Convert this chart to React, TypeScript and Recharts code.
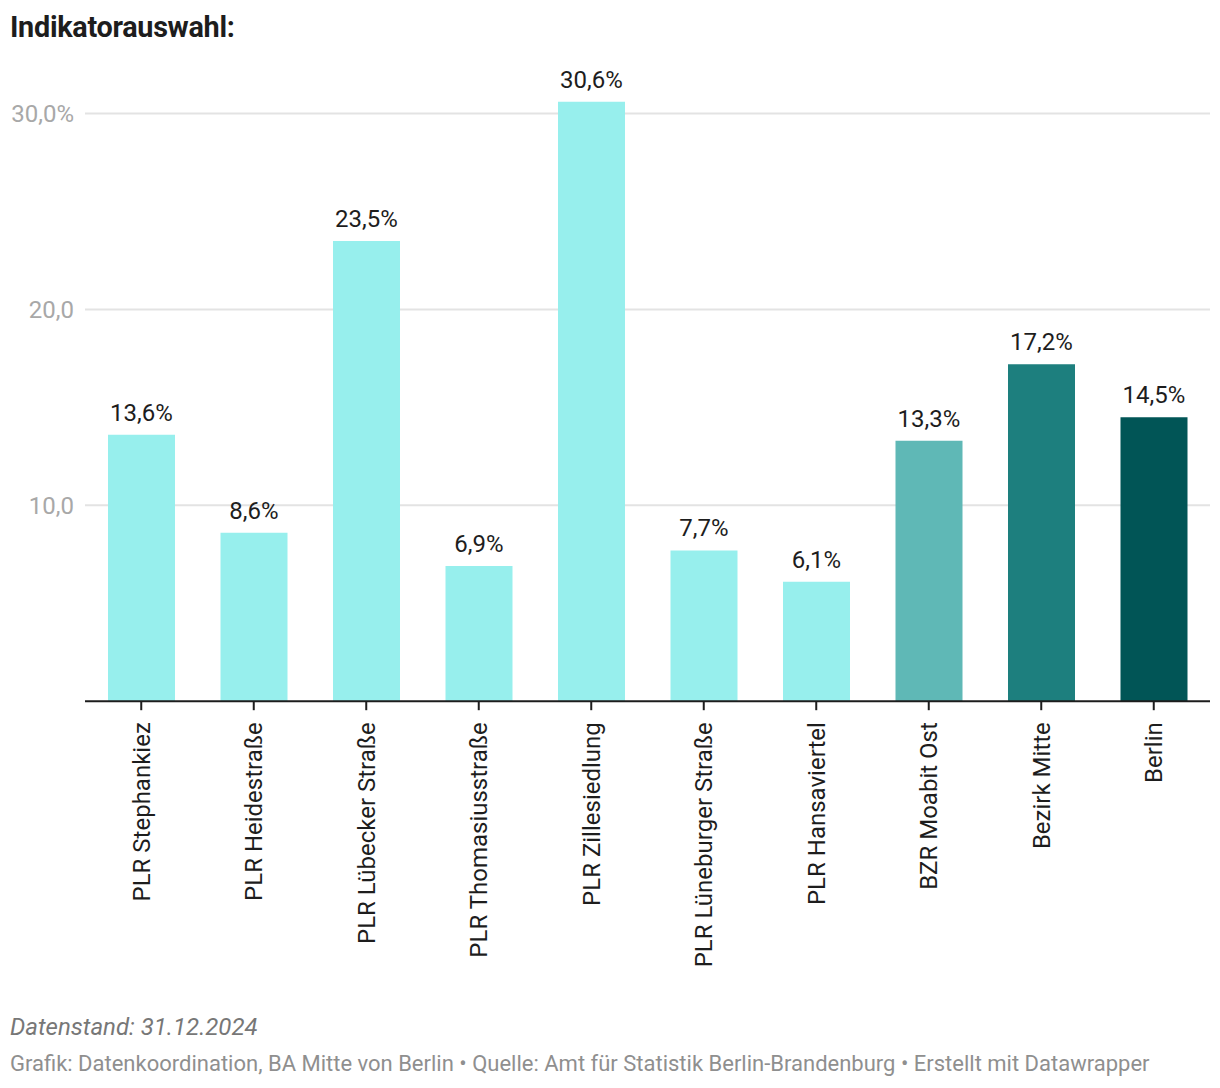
import React from "react";
import { BarChart, Bar, XAxis, YAxis, CartesianGrid, Cell, LabelList } from "recharts";

const categories = [
  "PLR Stephankiez",
  "PLR Heidestraße",
  "PLR Lübecker Straße",
  "PLR Thomasiusstraße",
  "PLR Zillesiedlung",
  "PLR Lüneburger Straße",
  "PLR Hansaviertel",
  "BZR Moabit Ost",
  "Bezirk Mitte",
  "Berlin",
];
const values = [13.6, 8.6, 23.5, 6.9, 30.6, 7.7, 6.1, 13.3, 17.2, 14.5];
const barColors = [
  "#97efed", "#97efed", "#97efed", "#97efed", "#97efed", "#97efed", "#97efed",
  "#5fb8b6", "#1d7f7e", "#015556",
];
const yTicks = [0, 10, 20, 30];
const gridValues = [10, 20, 30];
const yTickLabels: Record<number, string> = { 0: "", 10: "10,0", 20: "20,0", 30: "30,0%" };

const data = categories.map((name, i) => ({ name, value: values[i], color: barColors[i] }));

const FONT = "Roboto, 'Noto Sans', sans-serif";

const fmt = (v: number) => v.toFixed(1).replace(".", ",") + "%";

const YTick = (props: any) => {
  const { y, payload } = props;
  return (
    <text x={74} y={y} dy="0.35em" textAnchor="end" fill="#a8a8a8" fontSize={24} fontFamily={FONT}>
      {yTickLabels[payload.value]}
    </text>
  );
};

const XTick = (props: any) => {
  const { x, y, payload } = props;
  return (
    <g transform={`translate(${x},${y + 10})`}>
      <text transform="rotate(-90)" x={0} y={0} dy="0.35em" textAnchor="end" fill="#1d1d1d" fontSize={24} fontFamily={FONT}>
        {payload.value}
      </text>
    </g>
  );
};

const gridGen = (props: any) => {
  const yAxis = props && props.yAxis;
  if (yAxis && typeof yAxis.scale === "function") {
    return gridValues.map((v) => yAxis.scale(v));
  }
  if (yAxis && yAxis.scale && typeof yAxis.scale.map === "function") {
    return gridValues.map((v) => yAxis.scale.map(v));
  }
  return [];
};

export default function App() {
  return (
    <div style={{ position: "absolute", left: 0, top: 0, width: 1220, height: 1088, background: "#fff", fontFamily: FONT }}>
      <div style={{ position: "absolute", left: 10, top: 10, fontSize: 28.8, fontWeight: 700, color: "#1d1d1d", letterSpacing: -0.3, lineHeight: "34px" }}>
        Indikatorauswahl:
      </div>
      <div style={{ position: "absolute", left: 0, top: 0 }}>
        <BarChart
          width={1220}
          height={1000}
          data={data}
          margin={{ top: 94, right: 10, left: 0, bottom: 0 }}
        >
          <CartesianGrid vertical={false} stroke="#e3e3e3" strokeWidth={2} horizontalCoordinatesGenerator={gridGen} />
          <YAxis
            width={85}
            domain={[0, 31]}
            ticks={yTicks}
            axisLine={false}
            tickLine={false}
            tick={<YTick />}
            interval={0}
          />
          <XAxis
            dataKey="name"
            height={298.8}
            interval={0}
            axisLine={{ stroke: "#1d1d1d", strokeWidth: 2 }}
            tickLine={{ stroke: "#1d1d1d", strokeWidth: 2 }}
            tickSize={9}
            tick={<XTick />}
          />
          <Bar dataKey="value" barSize={67} isAnimationActive={false}>
            {data.map((d, i) => (
              <Cell key={i} fill={d.color} />
            ))}
            <LabelList
              dataKey="value"
              position="top"
              offset={14}
              formatter={(v: any) => fmt(Number(v))}
              fill="#1d1d1d"
              fontSize={24}
              fontFamily={FONT}
            />
          </Bar>
        </BarChart>
      </div>
      <div style={{ position: "absolute", left: 10, top: 1013, fontSize: 24, fontStyle: "italic", color: "#777", lineHeight: "28px" }}>
        Datenstand: 31.12.2024
      </div>
      <div style={{ position: "absolute", left: 10, top: 1050, fontSize: 22, color: "#8f8f8f", lineHeight: "28px" }}>
        Grafik: Datenkoordination, BA Mitte von Berlin • Quelle: Amt für Statistik Berlin-Brandenburg • Erstellt mit Datawrapper
      </div>
    </div>
  );
}
